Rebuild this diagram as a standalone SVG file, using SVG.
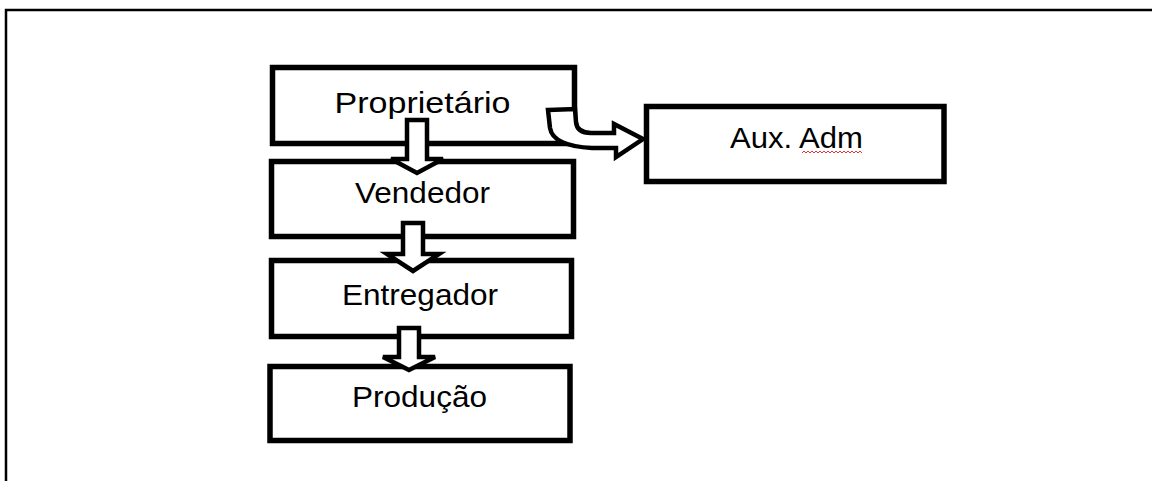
<svg xmlns="http://www.w3.org/2000/svg" width="1152" height="481" viewBox="0 0 1152 481">
  <style>
    .box { fill: #ffffff; stroke: #000000; stroke-width: 5.5; }
    .label { font-family: "Liberation Sans", Arial, sans-serif; font-size: 30px; fill: #000000; text-anchor: middle; }
    .arrow { fill: #ffffff; stroke: #000000; stroke-width: 4.5; stroke-linejoin: miter; }
    .frame { fill: none; stroke: #000000; stroke-width: 2.5; }
    .squiggle { fill: none; stroke: #e8333a; stroke-width: 1; }
  </style>

  <rect width="1152" height="481" fill="#ffffff"/>

  <!-- page frame: top and left edges -->
  <path class="frame" d="M6,481 V10 H1152"/>

  <g id="proprietario">
    <rect class="box" x="272.5" y="67.5" width="302" height="76"/>
    <text class="label" x="422.5" y="113" textLength="176" lengthAdjust="spacingAndGlyphs">Proprietário</text>
  </g>

  <g id="vendedor">
    <rect class="box" x="271.5" y="161.5" width="302" height="75"/>
    <text class="label" x="422.5" y="203" textLength="135" lengthAdjust="spacingAndGlyphs">Vendedor</text>
  </g>

  <g id="entregador">
    <rect class="box" x="271.5" y="260.5" width="300" height="76"/>
    <text class="label" x="420" y="305" textLength="156" lengthAdjust="spacingAndGlyphs">Entregador</text>
  </g>

  <g id="producao">
    <rect class="box" x="270" y="366.5" width="300" height="74"/>
    <text class="label" x="419.5" y="407" textLength="135" lengthAdjust="spacingAndGlyphs">Produção</text>
  </g>

  <g id="aux-adm">
    <rect class="box" x="646.5" y="106.5" width="297.5" height="75"/>
    <text class="label" x="796.5" y="148" textLength="133" lengthAdjust="spacingAndGlyphs">Aux. Adm</text>
    <!-- spell-check underline under "Adm" -->
    <path class="squiggle" d="M802,153 l2,-2 l2,2 l2,-2 l2,2 l2,-2 l2,2 l2,-2 l2,2 l2,-2 l2,2 l2,-2 l2,2 l2,-2 l2,2 l2,-2 l2,2 l2,-2 l2,2 l2,-2 l2,2 l2,-2 l2,2 l2,-2 l2,2 l2,-2 l2,2 l2,-2 l2,2 l2,-2 l2,2"/>
  </g>

  <g id="connectors">
    <!-- block arrows down the chain -->
    <path class="arrow" d="M407,120 H427 V159 H443 L417,173 L391,159 H407 Z"/>
    <path class="arrow" d="M403,223 H423 V254 H439 L413,271 L387,254 H403 Z"/>
    <path class="arrow" d="M399,328 H419 V357 H435 L409,370 L383,357 H399 Z"/>
    <!-- curved block arrow to Aux. Adm -->
    <path class="arrow" d="M548,110 L575,109 L576,122 Q577,133 591,133 L614,133 L614,124 L643,139 L616,157 L616,148 L592,148 Q553,146 550,128 Z"/>
  </g>
</svg>
